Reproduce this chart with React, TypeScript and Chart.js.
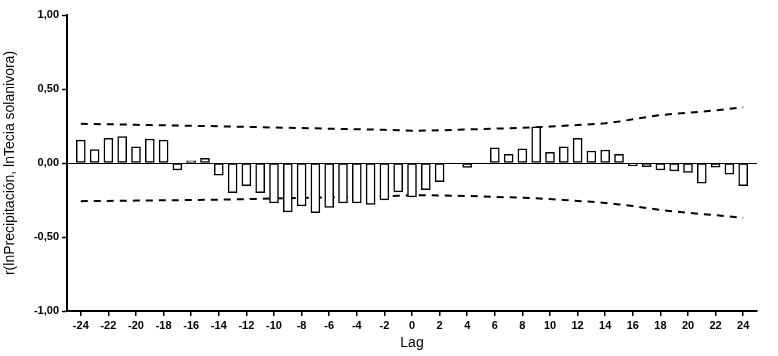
import React, { useEffect, useRef } from "react";
import { Chart, registerables } from "chart.js";

Chart.register(...registerables);

const lags = [
  -24, -23, -22, -21, -20, -19, -18, -17, -16, -15, -14, -13, -12, -11, -10, -9, -8,
  -7, -6, -5, -4, -3, -2, -1, 0, 1, 2, 3, 4, 5, 6, 7, 8, 9, 10, 11, 12, 13, 14, 15,
  16, 17, 18, 19, 20, 21, 22, 23, 24,
];

const correlation = [
  0.155, 0.09, 0.167, 0.178, 0.11, 0.162, 0.155, -0.047, 0.014, 0.032, -0.082, -0.2,
  -0.154, -0.2, -0.27, -0.33, -0.29, -0.335, -0.3, -0.27, -0.27, -0.28, -0.25, -0.195,
  -0.23, -0.18, -0.126, 0, -0.03, 0, 0.103, 0.059, 0.095, 0.245, 0.072, 0.11, 0.167,
  0.081, 0.088, 0.059, -0.018, -0.025, -0.047, -0.054, -0.063, -0.137, -0.029, -0.076,
  -0.153,
];

const upperBound = [
  0.265, 0.263, 0.262, 0.26, 0.258, 0.256, 0.255, 0.253, 0.251, 0.25, 0.248, 0.246,
  0.244, 0.242, 0.24, 0.238, 0.236, 0.234, 0.232, 0.23, 0.228, 0.226, 0.224, 0.221,
  0.218, 0.219, 0.221, 0.224, 0.227, 0.229, 0.232, 0.235, 0.238, 0.241, 0.246, 0.251,
  0.256, 0.262, 0.268, 0.28, 0.295, 0.31, 0.324, 0.332, 0.34, 0.347, 0.356, 0.366,
  0.376,
];

const lowerBound = [
  -0.258, -0.257, -0.256, -0.255, -0.254, -0.253, -0.252, -0.251, -0.25, -0.249,
  -0.248, -0.246, -0.244, -0.242, -0.24, -0.238, -0.236, -0.234, -0.232, -0.23,
  -0.228, -0.226, -0.224, -0.221, -0.218, -0.218, -0.219, -0.221, -0.223, -0.226,
  -0.229, -0.232, -0.235, -0.238, -0.244, -0.25, -0.256, -0.262, -0.27, -0.28, -0.29,
  -0.305, -0.317, -0.327, -0.336, -0.345, -0.353, -0.362, -0.37,
];

const lagTicks = [
  -24, -22, -20, -18, -16, -14, -12, -10, -8, -6, -4, -2, 0, 2, 4, 6, 8, 10, 12, 14,
  16, 18, 20, 22, 24,
];
const yTicks = [-1, -0.5, 0, 0.5, 1];

const xTitle = "Lag";
const yTitle = "r(lnPrecipitación, lnTecia solanivora)";

export default function App() {
  const ref = useRef<HTMLCanvasElement>(null);

  useEffect(() => {
    document.body.style.margin = "0";
    Chart.defaults.font.family = "'Liberation Sans', Arial, sans-serif";
    Chart.defaults.color = "#000";

    const chart = new Chart(ref.current as HTMLCanvasElement, {
      type: "bar",
      data: {
        datasets: [
          {
            type: "bar",
            data: lags.map((x, i) => ({ x, y: correlation[i] })),
            backgroundColor: "#ffffff",
            borderColor: "#000000",
            borderWidth: 1.5,
            borderSkipped: false,
            barThickness: 9,
          } as any,
          {
            type: "line",
            data: lags.map((x, i) => ({ x, y: upperBound[i] })),
            borderColor: "#000000",
            borderWidth: 2,
            borderDash: [7, 6],
            pointRadius: 0,
            fill: false,
            tension: 0,
          } as any,
          {
            type: "line",
            data: lags.map((x, i) => ({ x, y: lowerBound[i] })),
            borderColor: "#000000",
            borderWidth: 2,
            borderDash: [7, 6],
            pointRadius: 0,
            fill: false,
            tension: 0,
          } as any,
        ],
      },
      options: {
        responsive: false,
        animation: false,
        layout: { padding: { top: 15, right: 21, left: 0, bottom: 0 } },
        plugins: { legend: { display: false }, tooltip: { enabled: false } },
        scales: {
          x: {
            type: "linear",
            min: -25,
            max: 25,
            offset: false,
            afterBuildTicks: (s: any) => {
              s.ticks = lagTicks.map((v) => ({ value: v }));
            },
            afterFit: (s: any) => {
              s.height = 45;
            },
            grid: {
              drawOnChartArea: false,
              drawTicks: true,
              tickLength: 5,
              color: "#000",
              tickColor: "#000",
              lineWidth: 1.5,
              tickWidth: 1.5,
              offset: false,
            },
            border: { display: true, color: "#000", width: 2 },
            ticks: {
              autoSkip: false,
              maxRotation: 0,
              padding: 3,
              color: "#000",
              font: { size: 11, weight: "bold" },
              callback: (v: any) => String(v),
            },
            title: {
              display: true,
              text: xTitle,
              color: "#000",
              font: { size: 14 },
              padding: { top: 0, bottom: 4 },
            },
          } as any,
          y: {
            min: -1,
            max: 1,
            afterBuildTicks: (s: any) => {
              s.ticks = yTicks.map((v) => ({ value: v }));
            },
            afterFit: (s: any) => {
              s.width = 67;
            },
            grid: {
              drawOnChartArea: true,
              drawTicks: true,
              tickLength: 5,
              color: (ctx: any) =>
                ctx.tick && ctx.tick.value === 0 ? "#000" : "rgba(0,0,0,0)",
              tickColor: "#000",
              lineWidth: 1,
              tickWidth: 1.5,
            },
            border: { display: true, color: "#000", width: 2 },
            ticks: {
              padding: 3,
              color: "#000",
              font: { size: 11, weight: "bold" },
              callback: (v: any) => Number(v).toFixed(2).replace(".", ","),
            },
            title: {
              display: true,
              text: yTitle,
              color: "#000",
              font: { size: 14 },
              padding: { top: 2, bottom: 0 },
            },
          } as any,
        },
      },
    });
    return () => chart.destroy();
  }, []);

  return (
    <canvas
      ref={ref}
      width={778}
      height={356}
      style={{ display: "block", width: 778, height: 356 }}
    />
  );
}
